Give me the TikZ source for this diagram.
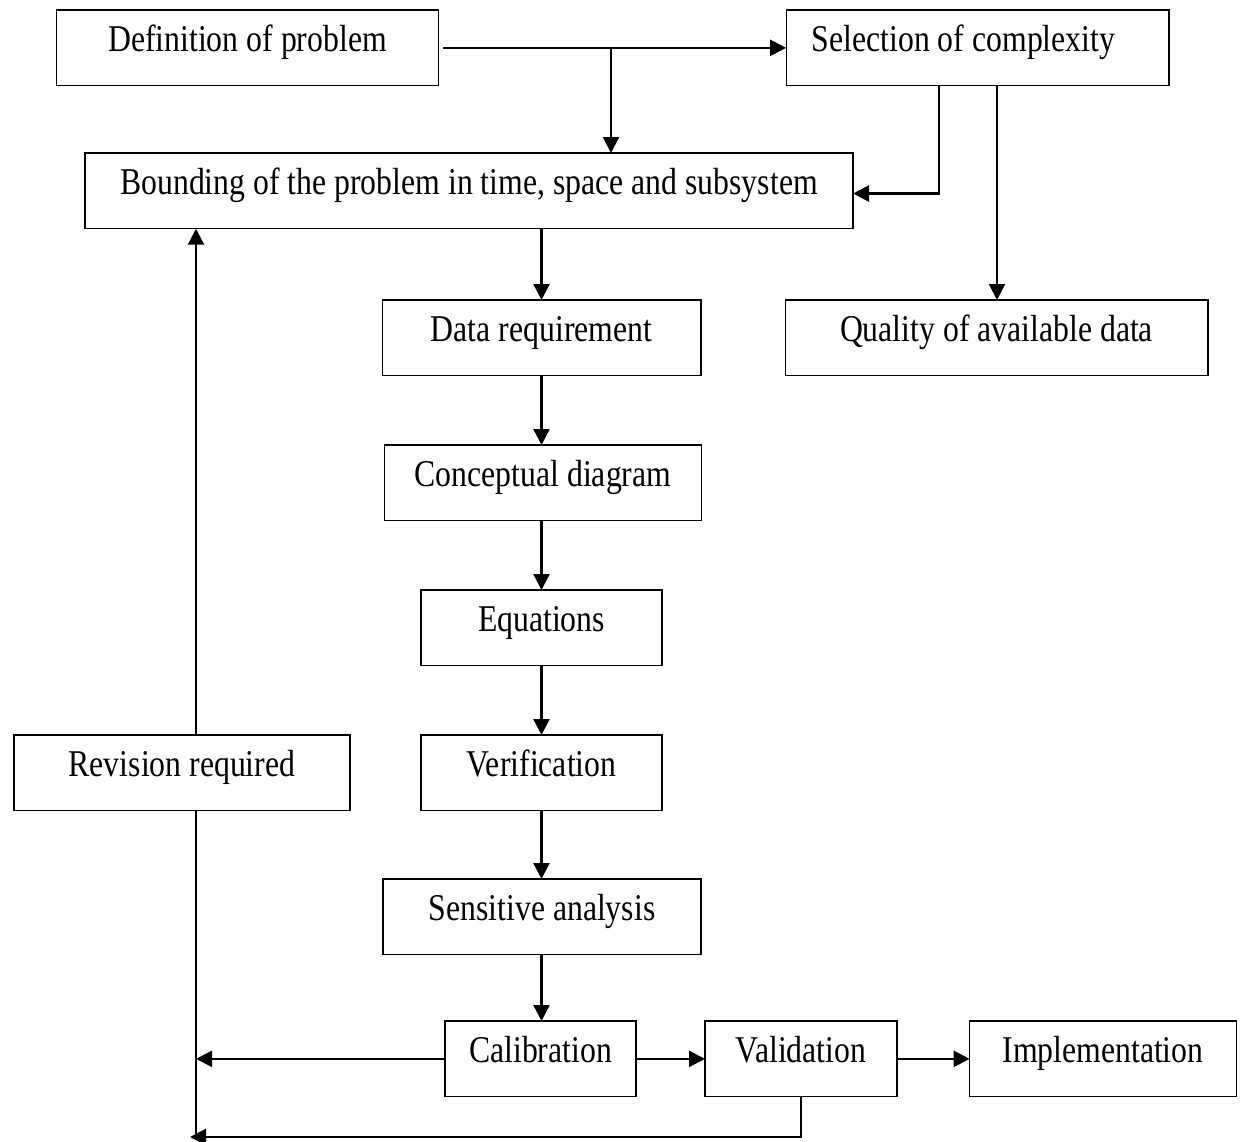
\documentclass[tikz,border=0pt]{standalone}
\usepackage{fontspec}
\setmainfont{Liberation Serif}[FakeStretch=0.84]
\usetikzlibrary{arrows.meta}
\begin{document}
\begin{tikzpicture}[x=0.75pt,y=-0.75pt,
  box/.style={draw, line width=1pt, outer sep=0pt, inner xsep=0pt, inner ysep=0pt,
    text height=31.2pt, text depth=25.6pt, anchor=north,
    font=\fontsize{28.35pt}{34pt}\selectfont},
  conn/.style={line width=1.7pt, -{Triangle[length=12pt,width=12pt]}},
  plain/.style={line width=1.7pt}]
\useasboundingbox (0,0) rectangle (1240,1142);
\node[box, minimum width=286.5pt] (def) at (247.5,10) {Definition of problem};
\node[box, minimum width=287pt] (sel) at (977.5,10) {Selection of complexity\hspace*{21pt}};
\node[box, minimum width=576pt] (bound) at (469,153) {Bounding of the problem in time, space and subsystem};
\node[box, minimum width=239pt] (data) at (541.5,300) {Data requirement};
\node[box, minimum width=317pt] (qual) at (996.5,300) {Quality of available data};
\node[box, minimum width=238pt] (conc) at (543,445) {Conceptual diagram};
\node[box, minimum width=180.75pt] (eq) at (541.5,590) {Equations};
\node[box, minimum width=180.75pt] (ver) at (541.5,735) {Verification};
\node[box, minimum width=238.5pt] (sens) at (542,879) {Sensitive analysis};
\node[box, minimum width=143.25pt] (cal) at (540.5,1021) {Calibration};
\node[box, minimum width=144pt] (val) at (801,1021) {Validation};
\node[box, minimum width=200pt] (impl) at (1103,1021) {Implementation};
\node[box, minimum width=252pt] (rev) at (182,735) {Revision required};
\coordinate (jx) at (611,0);
\coordinate (s1) at (939,0);
\coordinate (s2) at (997,0);
\coordinate (lx) at (196,0);
\coordinate (bl) at (196,1137);
\coordinate (blt) at (190,1137);
\draw[conn] ([xshift=3pt]def.east) -- (sel.west);
\draw[conn] (def.east -| jx) -- (bound.north -| jx);
\draw[conn] (sel.south -| s1) |- ([yshift=-2pt]bound.east);
\draw[conn] (sel.south -| s2) -- (qual.north -| s2);
\draw[conn] (bound.south -| data.north) -- (data.north);
\draw[conn] (data.south) -- (conc.north -| data.south);
\draw[conn] (conc.south -| data.south) -- (eq.north -| data.south);
\draw[conn] (eq.south -| data.south) -- (ver.north -| data.south);
\draw[conn] (ver.south -| data.south) -- (sens.north -| data.south);
\draw[conn] (sens.south -| data.south) -- (cal.north -| data.south);
\draw[conn] (cal.east) -- (val.west);
\draw[conn] (val.east) -- (impl.west);
\draw[conn] (cal.west) -- (cal.west -| lx);
\draw[conn] (val.south) |- (blt);
\draw[plain] (rev.south -| lx) -- (bl);
\draw[conn] (rev.north -| lx) -- (bound.south -| lx);
\end{tikzpicture}
\end{document}
